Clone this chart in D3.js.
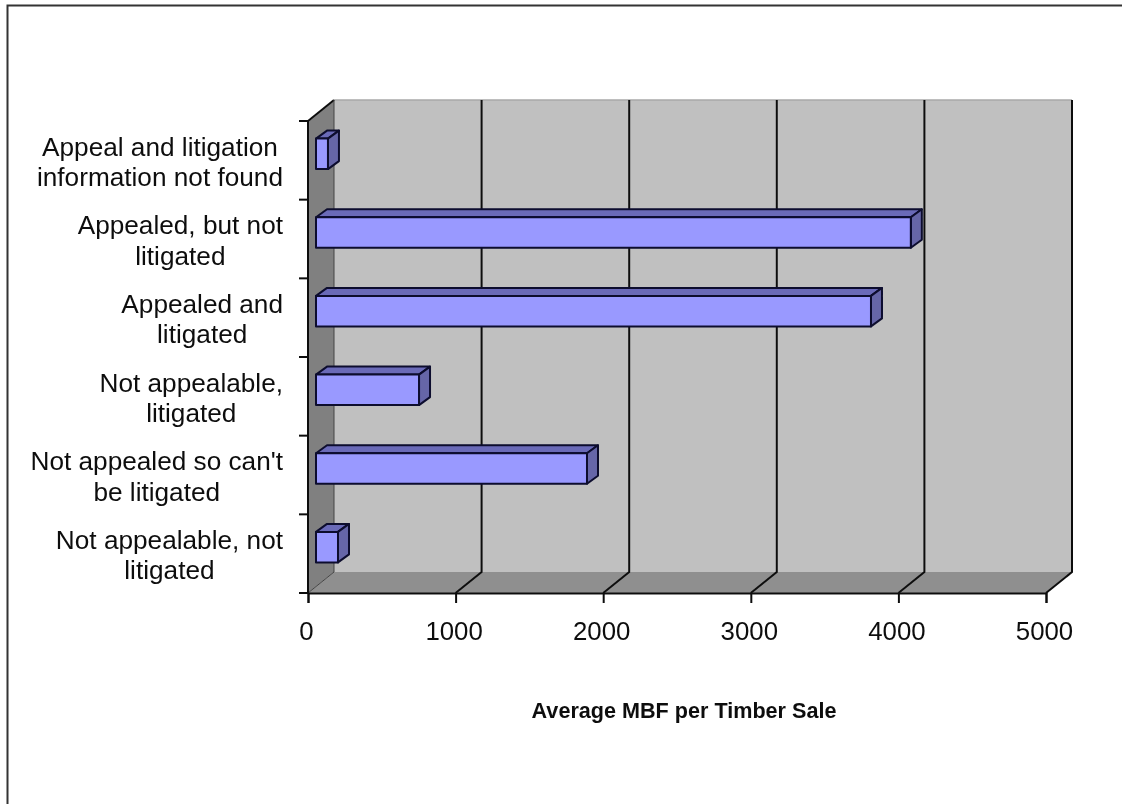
<!DOCTYPE html>
<html>
<head>
<meta charset="utf-8">
<script src="https://d3js.org/d3.v7.min.js"></script>
<style>
  html, body { margin: 0; padding: 0; background: #fff; overflow: hidden; }
  text { font-family: "Liberation Sans", Arial, sans-serif; fill: #111; }
</style>
</head>
<body>
<div id="chart"></div>
<script>
const categories = [
    ["Appeal and litigation", "information not found"],
    ["Appealed, but not", "litigated"],
    ["Appealed and", "litigated"],
    ["Not appealable,", "litigated"],
    ["Not appealed so can't", "be litigated"],
    ["Not appealable, not", "litigated"]
];
const values = [81, 4030, 3760, 698, 1836, 149];
const xTicks = [0, 1000, 2000, 3000, 4000, 5000];
const axisTitle = "Average MBF per Timber Sale";

const width = 1122;
const height = 804;

const x = d3.scaleLinear().domain([0, 5000]).range([308, 1046]);
const y = d3.scaleBand()
    .domain(d3.range(categories.length))
    .range([121, 593])
    .paddingInner(0.6)
    .paddingOuter(0.3);

const depth = { dx: 26, dy: -21 };
const barDepth = { dx: 11, dy: -8 };
const barOffset = { dx: 8, dy: -7 };

const svg = d3.select("#chart")
    .append("svg")
    .attr("width", width)
    .attr("height", height)
    .style("display", "block");

const defs = svg.append("defs");
defs.append("filter").attr("id", "soft")
    .attr("filterUnits", "userSpaceOnUse")
    .attr("x", 0).attr("y", 0).attr("width", width).attr("height", height)
    .append("feGaussianBlur").attr("stdDeviation", 0.55);

svg.append("rect")
    .attr("x", 7.5)
    .attr("y", 5.5)
    .attr("width", width)
    .attr("height", height)
    .attr("fill", "#fff")
    .attr("stroke", "#333")
    .attr("stroke-width", 2);

const g = svg.append("g").attr("filter", "url(#soft)");

const left = x(0);
const right = x(5000);
const plotTop = y.range()[0];
const plotBottom = y.range()[1];

function poly(points, fill, stroke, sw) {
    return g.append("polygon")
        .attr("points", points.map(p => p.join(",")).join(" "))
        .attr("fill", fill)
        .attr("stroke", stroke || "none")
        .attr("stroke-width", sw || 0)
        .attr("stroke-linejoin", "round");
}

// back wall, side wall, floor
poly([[left + depth.dx, plotTop + depth.dy], [right + depth.dx, plotTop + depth.dy],
      [right + depth.dx, plotBottom + depth.dy], [left + depth.dx, plotBottom + depth.dy]], "#c0c0c0");
poly([[left, plotTop], [left + depth.dx, plotTop + depth.dy],
      [left + depth.dx, plotBottom + depth.dy], [left, plotBottom]], "#808080");
poly([[left, plotBottom], [left + depth.dx, plotBottom + depth.dy],
      [right + depth.dx, plotBottom + depth.dy], [right, plotBottom]], "#8f8f8f");

// top highlight and edges of the walls
g.append("line")
    .attr("x1", left + depth.dx).attr("x2", right + depth.dx)
    .attr("y1", plotTop + depth.dy).attr("y2", plotTop + depth.dy)
    .attr("stroke", "#a8a8a8").attr("stroke-width", 1.5);
g.append("line")
    .attr("x1", left).attr("y1", plotTop)
    .attr("x2", left + depth.dx).attr("y2", plotTop + depth.dy)
    .attr("stroke", "#111").attr("stroke-width", 2);

// gridlines
xTicks.forEach(t => {
    g.append("polyline")
        .attr("points", [[x(t), plotBottom],
            [x(t) + depth.dx, plotBottom + depth.dy],
            [x(t) + depth.dx, plotTop + depth.dy]].map(p => p.join(",")).join(" "))
        .attr("fill", "none")
        .attr("stroke", t === 0 ? "#444" : "#111")
        .attr("stroke-width", t === 0 ? 1 : 2);
});

// axes
const xAxis = d3.axisBottom(x).tickValues(xTicks).tickSize(10).tickPadding(19).tickFormat(d3.format("d"));
const xg = g.append("g").attr("transform", `translate(0,${plotBottom})`).call(xAxis);
xg.select(".domain").attr("stroke", "#111").attr("stroke-width", 2);
xg.selectAll(".tick line").attr("stroke", "#111").attr("stroke-width", 2);
xg.selectAll("text")
    .attr("font-size", 25.8)
    .attr("font-family", "Liberation Sans")
    .attr("fill", "#111")
    .attr("dx", -2);

const tickYs = d3.range(categories.length + 1).map(i => plotTop + i * y.step());
g.append("line")
    .attr("x1", left).attr("x2", left)
    .attr("y1", plotTop).attr("y2", plotBottom)
    .attr("stroke", "#111").attr("stroke-width", 2);
tickYs.forEach(ty => {
    g.append("line")
        .attr("x1", left - 9).attr("x2", left)
        .attr("y1", ty).attr("y2", ty)
        .attr("stroke", "#111").attr("stroke-width", 2);
});

// bars, top to bottom
categories.forEach((c, i) => {
    const x0 = x(0) + barOffset.dx;
    const x1 = x(values[i]) + barOffset.dx;
    const y0 = y(i) + barOffset.dy + 1;
    const y1 = y0 + y.bandwidth() - 1;
    const dx = barDepth.dx, dy = barDepth.dy;
    poly([[x0, y0], [x0 + dx, y0 + dy], [x1 + dx, y0 + dy], [x1, y0]], "#6b6bb8", "#0d0d2e", 2);
    poly([[x1, y0], [x1 + dx, y0 + dy], [x1 + dx, y1 + dy], [x1, y1]], "#6666a8", "#0d0d2e", 2);
    poly([[x0, y0], [x1, y0], [x1, y1], [x0, y1]], "#9999ff", "#0d0d2e", 2);
});

// category labels
categories.forEach((c, i) => {
    const cy = plotTop + (i + 0.5) * y.step();
    c.forEach((line, k) => {
        g.append("text")
            .attr("class", "cat")
            .attr("data-i", i)
            .attr("x", 283)
            .attr("y", cy + (k - 0.5) * 30.5 + 10.5)
            .attr("text-anchor", "middle")
            .attr("font-size", 26.2)
            .text(line);
    });
    // lines are centred with each other, the block sits against the axis
    const nodes = g.selectAll(`text.cat[data-i="${i}"]`).nodes();
    const w = d3.max(nodes, n => n.getComputedTextLength());
    nodes.forEach(n => n.setAttribute("x", 283 - w / 2));
});

g.append("text")
    .attr("x", 684)
    .attr("y", 718)
    .attr("text-anchor", "middle")
    .attr("font-size", 21.6)
    .attr("font-weight", "bold")
    .text(axisTitle);
</script>
</body>
</html>
